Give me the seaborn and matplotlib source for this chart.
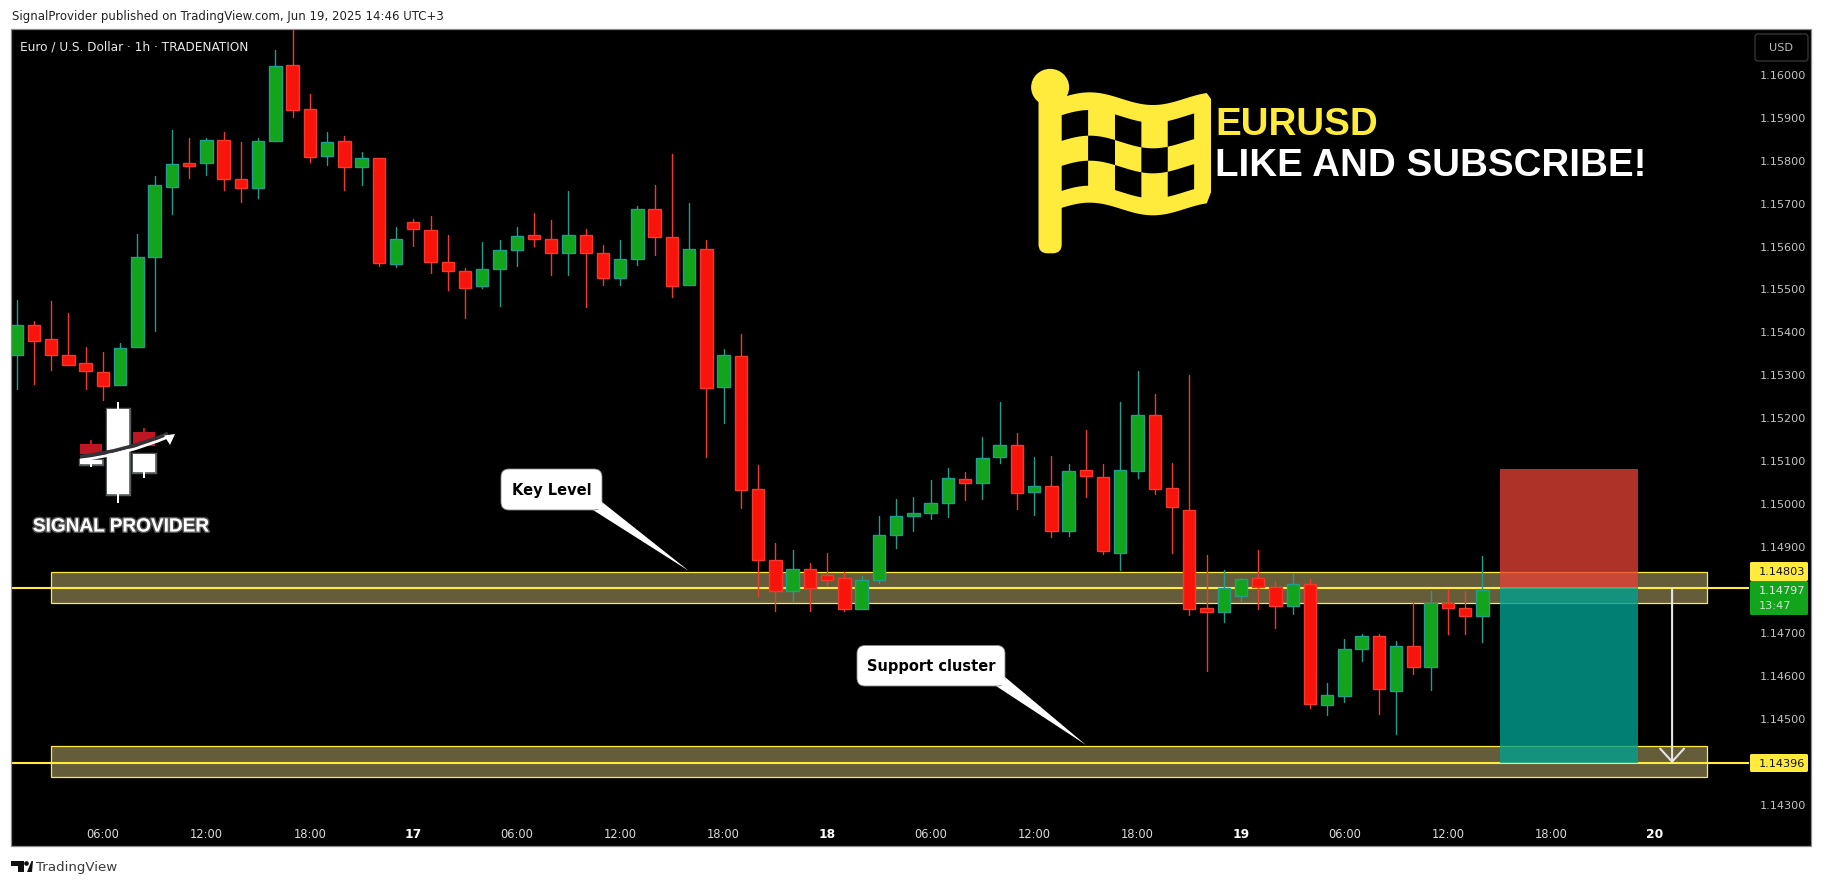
import numpy as np
import pandas as pd
import matplotlib
matplotlib.use("Agg")
import matplotlib.pyplot as plt
import matplotlib.patheffects as pe
from matplotlib.patches import Rectangle, Polygon, FancyBboxPatch, PathPatch, Ellipse
from matplotlib.path import Path
from matplotlib.transforms import Affine2D
import seaborn as sns

# ---------- data ----------
hours = list(range(-5, 81))  # hours since 16 Jun 06:00
opens = [1.15345,1.15414,1.15382,1.15345,1.15326,1.15305,1.15276,1.15365,1.15573,1.15737,
         1.15791,1.15791,1.15845,1.15754,1.15733,1.15844,1.16019,1.15917,1.15807,1.15842,
         1.15782,1.15803,1.15556,1.15654,1.15635,1.15561,1.15540,1.15505,1.15545,1.15589,
         1.15624,1.15614,1.15582,1.15624,1.15582,1.15524,1.15568,1.15684,1.15619,1.15507,
         1.15591,1.15270,1.15342,1.15033,1.14868,1.14796,1.14847,1.14833,1.14826,1.14754,
         1.14821,1.14926,1.14970,1.14977,1.15000,1.15056,1.15047,1.15107,1.15135,1.15026,
         1.15040,1.14935,1.15077,1.15061,1.14886,1.15075,1.15205,1.15035,1.14984,1.14756,
         1.14747,1.14784,1.14826,1.14805,1.14761,1.14812,1.14532,1.14553,1.14661,1.14693,
         1.14565,1.14668,1.14619,1.14768,1.14756,1.14738]
closes = [1.15414,1.15379,1.15346,1.15323,1.15307,1.15274,1.15361,1.15573,1.15740,1.15789,
          1.15786,1.15845,1.15755,1.15733,1.15842,1.16017,1.15914,1.15805,1.15840,1.15782,
          1.15803,1.15559,1.15614,1.15638,1.15561,1.15540,1.15500,1.15545,1.15589,1.15621,
          1.15614,1.15582,1.15624,1.15582,1.15524,1.15568,1.15684,1.15619,1.15505,1.15591,
          1.15268,1.15345,1.15031,1.14868,1.14796,1.14847,1.14804,1.14821,1.14754,1.14821,
          1.14926,1.14970,1.14979,1.15000,1.15059,1.15047,1.15105,1.15135,1.15024,1.15040,
          1.14935,1.15075,1.15063,1.14889,1.15077,1.15205,1.15033,1.14991,1.14754,1.14747,
          1.14803,1.14824,1.14805,1.14761,1.14812,1.14533,1.14554,1.14661,1.14693,1.14568,
          1.14668,1.14619,1.14768,1.14758,1.14738,1.14798]
highs = [1.15473,1.15424,1.15471,1.15443,1.15364,1.15352,1.15373,1.15627,1.15762,1.15869,
         1.15850,1.15850,1.15864,1.15841,1.15850,1.16055,1.16110,1.15952,1.15864,1.15855,
         1.15817,1.15803,1.15643,1.15662,1.15669,1.15624,1.15547,1.15608,1.15613,1.15643,
         1.15675,1.15659,1.15727,1.15638,1.15601,1.15613,1.15691,1.15741,1.15813,1.15699,
         1.15613,1.15359,1.15394,1.15090,1.14907,1.14892,1.14862,1.14885,1.14840,1.14831,
         1.14971,1.15010,1.15015,1.15055,1.15083,1.15073,1.15154,1.15236,1.15163,1.15108,
         1.15110,1.15091,1.15171,1.15091,1.15236,1.15308,1.15255,1.15094,1.15299,1.14880,
         1.14845,1.14826,1.14891,1.14819,1.14838,1.14824,1.14582,1.14685,1.14696,1.14696,
         1.14680,1.14772,1.14796,1.14801,1.14796,1.14877]
lows = [1.15267,1.15278,1.15311,1.15323,1.15267,1.15241,1.15276,1.15365,1.15402,1.15674,
        1.15757,1.15765,1.15728,1.15702,1.15711,1.15844,1.15900,1.15795,1.15788,1.15728,
        1.15741,1.15553,1.15551,1.15600,1.15537,1.15497,1.15432,1.15500,1.15460,1.15553,
        1.15600,1.15532,1.15532,1.15458,1.15507,1.15507,1.15555,1.15579,1.15481,1.15507,
        1.15109,1.15188,1.14990,1.14786,1.14751,1.14774,1.14751,1.14809,1.14751,1.14754,
        1.14814,1.14897,1.14935,1.14965,1.14969,1.15007,1.15011,1.15095,1.14988,1.14974,
        1.14923,1.14925,1.15014,1.14883,1.14846,1.15060,1.15021,1.14886,1.14741,1.14611,
        1.14725,1.14774,1.14755,1.14711,1.14744,1.14525,1.14509,1.14539,1.14634,1.14511,
        1.14465,1.14604,1.14567,1.14697,1.14697,1.14679]

price_ticks = [1.143,1.144,1.145,1.146,1.147,1.148,1.149,1.150,1.151,1.152,1.153,1.154,
               1.155,1.156,1.157,1.158,1.159,1.160]
time_ticks = list(range(0, 91, 6))
time_labels = ["06:00","12:00","18:00","17","06:00","12:00","18:00","18",
               "06:00","12:00","18:00","19","06:00","12:00","18:00","20"]
level_lines = [1.14803, 1.14396]
band_tops = [1.14840, 1.14435]
band_bottoms = [1.14768, 1.14363]
band_span = [-3, 93]
last_price = 1.14797
stop_price = 1.15080
trade_span = [81, 89]
arrow_hour = 91

# ---------- colours ----------
BULL, BULL_EDGE = "#12A51C", "#1F9E8C"
BEAR, BEAR_EDGE = "#F8140A", "#F4382C"
YEL = "#FFEB3B"

W, H = 1825, 887
sns.set_theme(style="dark", rc={"axes.facecolor": "black", "figure.facecolor": "white",
                                "axes.grid": False})
plt.rcParams["font.family"] = ["DejaVu Sans"]
fig = plt.figure(figsize=(W / 100, H / 100), dpi=100)
px = Affine2D().scale(1, -1).translate(0, H)

AL, AR, AT, AB = 11.5, 1749, 30, 818
ax = fig.add_axes([AL / W, (H - AB) / H, (AR - AL) / W, (AB - AT) / H])
ax.set_zorder(1)

# backdrop of the whole chart incl. axis strips
fig.add_artist(Rectangle((11, 30), 1800, 817, transform=px, facecolor="black", lw=0, zorder=-1))
fig.add_artist(Rectangle((11, 30), 1800, 817, transform=px, facecolor="none",
                         edgecolor="#8c8c8c", lw=0.9, zorder=8))

df = pd.DataFrame({"hour": hours, "open": opens, "close": closes, "high": highs, "low": lows})
df["direction"] = np.where(df["close"] >= df["open"], "up", "down")
df["bottom"] = df[["open", "close"]].min(axis=1)
df["height"] = (df["close"] - df["open"]).abs()

# zones and levels beneath the candles
for top, bot in zip(band_tops, band_bottoms):
    ax.add_patch(Rectangle((band_span[0], bot), band_span[1] - band_span[0], top - bot,
                           facecolor="#655D3A", edgecolor=YEL, lw=0.9, zorder=1))
for lvl in level_lines:
    ax.axhline(lvl, color=YEL, lw=1.5, zorder=2)

# wicks
wicks = df.melt(id_vars=["hour", "direction"], value_vars=["low", "high"], value_name="price")
sns.lineplot(data=wicks, x="hour", y="price", units="hour", estimator=None, hue="direction",
             palette={"up": BULL_EDGE, "down": BEAR_EDGE}, legend=False, lw=1.0, zorder=3,
             ax=ax, sort=False)

# candle bodies
for direction, fc, ec in [("up", BULL, BULL_EDGE), ("down", BEAR, BEAR_EDGE)]:
    sub = df[df["direction"] == direction]
    sns.barplot(data=sub, x="hour", y="height", bottom=sub["bottom"].values, native_scale=True,
                width=0.72, color=fc, saturation=1, edgecolor=ec, linewidth=1.0,
                errorbar=None, zorder=4, ax=ax)

# trade boxes
ax.add_patch(Rectangle((trade_span[0], level_lines[0]), trade_span[1] - trade_span[0],
                       stop_price - level_lines[0], facecolor="#E74237", alpha=0.76, lw=0, zorder=5))
ax.add_patch(Rectangle((trade_span[0], level_lines[1]), trade_span[1] - trade_span[0],
                       level_lines[0] - level_lines[1], facecolor="#00A090", alpha=0.80, lw=0, zorder=5))
ax.annotate("", xy=(arrow_hour, level_lines[1]), xytext=(arrow_hour, level_lines[0]),
            arrowprops=dict(arrowstyle="->,head_length=0.47,head_width=0.43", color="#E6E6E6",
                            lw=1.5, mutation_scale=20, shrinkA=0, shrinkB=0), zorder=6)

ax.set_xlim(-5.30, 95.46)
ax.set_ylim(1.142709, 1.161035)
ax.set_xlabel("")
ax.set_ylabel("")
for s in ax.spines.values():
    s.set_visible(False)
ax.set_xticks(time_ticks)
ax.set_xticklabels(time_labels, fontsize=8.3, color="#DADADA")
for lab in ax.get_xticklabels():
    if ":" not in lab.get_text():
        lab.set_fontweight("bold")
        lab.set_color("white")
        lab.set_fontsize(8.8)
ax.set_yticks(price_ticks)
ax.set_yticklabels([f"{p:.5f}" for p in price_ticks], fontsize=8.1, color="#C4C4C4")
ax.yaxis.tick_right()
ax.tick_params(axis="y", length=0, pad=7.6)
ax.tick_params(axis="x", length=0, pad=7)


def ptext(x, y, s, **kw):
    kw.setdefault("va", "center")
    kw.setdefault("zorder", 10)
    return fig.text(x, y, s, transform=px, **kw)


def pshape(patch):
    patch.set_transform(px)
    patch.set_zorder(patch.get_zorder() if patch.get_zorder() > 5 else 9)
    fig.add_artist(patch)
    return patch


# header / footer
ptext(11.5, 17, "SignalProvider published on TradingView.com, Jun 19, 2025 14:46 UTC+3",
      fontsize=8.45, color="#222222")
ptext(20, 47, "Euro / U.S. Dollar · 1h · TRADENATION", fontsize=8.7, color="#E8E8E8")
ptext(36, 868, "TradingView", fontsize=9.6, color="#3A3A3A")
pshape(Polygon([(11, 862), (24, 862), (24, 873), (18, 873), (18, 867), (11, 867)], closed=True,
               facecolor="#111111", lw=0))
pshape(Ellipse((26.5, 864.5), 4.6, 4.6, facecolor="#111111", lw=0))
pshape(Polygon([(27, 873), (31.5, 862), (33, 862), (32, 873)], closed=True, facecolor="#111111", lw=0))

# USD button
pshape(FancyBboxPatch((1755, 35), 53, 27, boxstyle="round,pad=0,rounding_size=3",
                      facecolor="black", edgecolor="#3A3A3A", lw=0.9))
ptext(1781, 48.5, "USD", fontsize=8.1, color="#BDBDBD", ha="center")

# price labels
pshape(FancyBboxPatch((1750, 563), 58, 19, boxstyle="round,pad=0,rounding_size=1.5",
                      facecolor=YEL, lw=0))
ptext(1759, 572.5, f"{level_lines[0]:.5f}", fontsize=8.1, color="#111111")
pshape(FancyBboxPatch((1750, 582), 58, 34, boxstyle="round,pad=0,rounding_size=1.5",
                      facecolor=BULL, lw=0))
ptext(1759, 591.5, f"{last_price:.5f}", fontsize=8.1, color="#E6E6E6")
ptext(1759, 606.5, "13:47", fontsize=8.1, color="#C8E6C8")
pshape(FancyBboxPatch((1750, 755), 58, 18, boxstyle="round,pad=0,rounding_size=1.5",
                      facecolor=YEL, lw=0))
ptext(1759, 764, f"{level_lines[1]:.5f}", fontsize=8.1, color="#111111")


# callouts
def callout(x0, y0, x1, y1, tip, b1, b2, label):
    pshape(Polygon([b1, tip, b2], closed=True, facecolor="white", edgecolor="none"))
    pshape(FancyBboxPatch((x0, y0), x1 - x0, y1 - y0, boxstyle="round,pad=0,rounding_size=8",
                          facecolor="white", edgecolor="#8a8a8a", lw=0.6))
    pshape(Polygon([(b1[0] - 8, y1 - 1), (b2[0], y1 - 1), b2, (b2[0] - 10, y1 - 12)], closed=True,
                   facecolor="white", edgecolor="none"))
    ptext((x0 + x1) / 2, (y0 + y1) / 2, label, fontsize=10.5, fontweight="bold", color="black",
          ha="center", zorder=11)


callout(501, 470, 602, 511, (689, 572), (593, 511), (602, 503), "Key Level")
callout(857, 646.5, 1005, 687, (1086, 746), (996, 687), (1005, 678), "Support cluster")

# flag logo
fx = lambda z: 1000 + 0.5275 * np.asarray(z, float)
fy = lambda z: 50 + np.asarray(z, float) / 3
wave = lambda x, base: base + 19 * np.cos(2 * np.pi * (np.asarray(x, float) - 290) / 240)
xs = np.linspace(100, 392, 60)
top = wave(xs, 149)
bottom = wave(xs, 480)
outline = list(zip(fx(xs), fy(top))) + [(fx(400), fy(150)), (fx(400), fy(430))] + \
    list(zip(fx(xs[::-1]), fy(bottom[::-1])))
pshape(Polygon(outline, closed=True, facecolor=YEL, lw=0, joinstyle="round"))
pshape(FancyBboxPatch((fx(73), fy(130)), 23.2, 161, boxstyle="round,pad=0,rounding_size=9",
                      facecolor=YEL, lw=0))
pshape(Ellipse((fx(95), fy(115)), 38, 37, facecolor=YEL, lw=0))
cols = [117, 167, 218, 268, 318, 368]
bases = [202, 279, 354, 429]
for r, c_list in enumerate([(0, 2, 4), (1, 3), (0, 2, 4)]):
    for c in c_list:
        cx = np.linspace(cols[c], cols[c + 1], 10)
        pts = list(zip(fx(cx), fy(wave(cx, bases[r])))) + \
            list(zip(fx(cx[::-1]), fy(wave(cx[::-1], bases[r + 1]))))
        pshape(Polygon(pts, closed=True, facecolor="black", lw=0))
ptext(1215, 125, "EURUSD", fontsize=27.7, color=YEL, family="Liberation Sans", fontweight="bold")
ptext(1215, 166, "LIKE AND SUBSCRIBE!", fontsize=27.7, color="white", family="Liberation Sans",
      fontweight="bold")

# signal provider logo
glow = [pe.withStroke(linewidth=2.5, foreground="#9aa5a8", alpha=0.55)]
for rect in [(106.7, 410, 22.3, 85), (133, 455, 22, 18), (80, 461, 21.7, 4)]:
    p = pshape(Rectangle(rect[:2], rect[2], rect[3], facecolor="white", lw=0))
    p.set_path_effects(glow + [pe.Normal()])
for x, y0, y1 in [(117.7, 403, 504), (144, 473, 479), (90.8, 465, 468)]:
    pshape(Rectangle((x - 1.2, y0), 2.4, y1 - y0, facecolor="white", lw=0))
for rect in [(80, 445, 21.7, 10), (133, 433, 22, 14)]:
    pshape(Rectangle(rect[:2], rect[2], rect[3], facecolor="#BE1622", lw=0, zorder=9))
for x, y0, y1 in [(90.8, 441, 445), (144, 429, 433)]:
    pshape(Rectangle((x - 1, y0), 2, y1 - y0, facecolor="#BE1622", lw=0))
swoosh = Path([(80, 461), (125, 456), (168, 438)], [Path.MOVETO, Path.CURVE3, Path.CURVE3])
pshape(PathPatch(Path(swoosh.vertices + [0, -3.5], swoosh.codes), facecolor="none",
                 edgecolor="#333338", lw=2.6, zorder=9))
pshape(PathPatch(swoosh, facecolor="none", edgecolor="white", lw=2.0, zorder=10))
pshape(Polygon([(175, 435), (164, 436.5), (170, 446)], closed=True, facecolor="white", lw=0, zorder=10))
ptext(120.5, 528, "SIGNAL PROVIDER", fontsize=13.7, fontweight="bold", color="white",
      family="Liberation Sans", ha="center",
      path_effects=[pe.withStroke(linewidth=2.2, foreground="#8a8a8a", alpha=0.6)])

fig.savefig("out.png", dpi=100, facecolor="white")
